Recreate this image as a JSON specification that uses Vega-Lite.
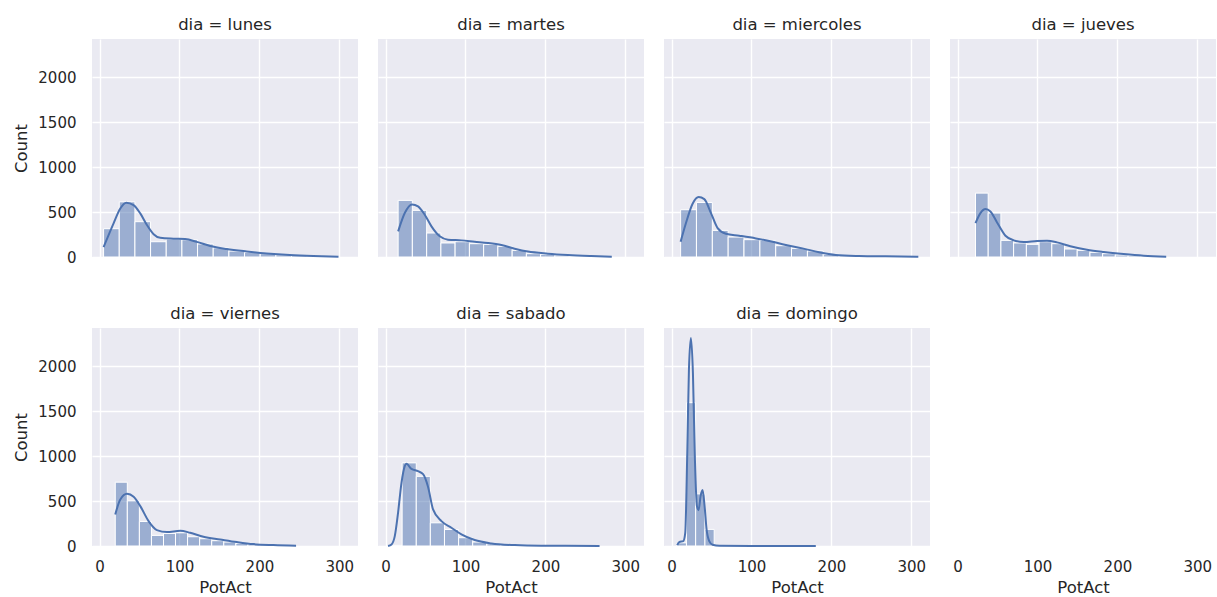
{
  "$schema": "https://vega.github.io/schema/vega-lite/v6.json",
  "background": "white",
  "padding": {"left": 13, "top": 16, "right": 0, "bottom": 0},
  "data": {
    "values": [
      {"dia": "lunes", "tipo": "hist", "desde": 5.0, "hasta": 24.6, "Count": 315},
      {"dia": "lunes", "tipo": "hist", "desde": 24.6, "hasta": 44.2, "Count": 614},
      {"dia": "lunes", "tipo": "hist", "desde": 44.2, "hasta": 63.8, "Count": 393},
      {"dia": "lunes", "tipo": "hist", "desde": 63.8, "hasta": 83.4, "Count": 170},
      {"dia": "lunes", "tipo": "hist", "desde": 83.4, "hasta": 103.0, "Count": 200},
      {"dia": "lunes", "tipo": "hist", "desde": 103.0, "hasta": 122.6, "Count": 192},
      {"dia": "lunes", "tipo": "hist", "desde": 122.6, "hasta": 142.2, "Count": 145},
      {"dia": "lunes", "tipo": "hist", "desde": 142.2, "hasta": 161.8, "Count": 102},
      {"dia": "lunes", "tipo": "hist", "desde": 161.8, "hasta": 181.4, "Count": 66},
      {"dia": "lunes", "tipo": "hist", "desde": 181.4, "hasta": 201.0, "Count": 52},
      {"dia": "lunes", "tipo": "hist", "desde": 201.0, "hasta": 220.6, "Count": 37},
      {"dia": "lunes", "tipo": "hist", "desde": 220.6, "hasta": 240.2, "Count": 24},
      {"dia": "lunes", "tipo": "hist", "desde": 240.2, "hasta": 259.8, "Count": 16},
      {"dia": "lunes", "tipo": "hist", "desde": 259.8, "hasta": 279.4, "Count": 9},
      {"dia": "lunes", "tipo": "hist", "desde": 279.4, "hasta": 299.0, "Count": 5},

      {"dia": "martes", "tipo": "hist", "desde": 15.7, "hasta": 33.5, "Count": 630},
      {"dia": "martes", "tipo": "hist", "desde": 33.5, "hasta": 51.4, "Count": 519},
      {"dia": "martes", "tipo": "hist", "desde": 51.4, "hasta": 69.2, "Count": 267},
      {"dia": "martes", "tipo": "hist", "desde": 69.2, "hasta": 87.0, "Count": 156},
      {"dia": "martes", "tipo": "hist", "desde": 87.0, "hasta": 104.9, "Count": 170},
      {"dia": "martes", "tipo": "hist", "desde": 104.9, "hasta": 122.7, "Count": 148},
      {"dia": "martes", "tipo": "hist", "desde": 122.7, "hasta": 140.5, "Count": 141},
      {"dia": "martes", "tipo": "hist", "desde": 140.5, "hasta": 158.4, "Count": 119},
      {"dia": "martes", "tipo": "hist", "desde": 158.4, "hasta": 176.2, "Count": 74},
      {"dia": "martes", "tipo": "hist", "desde": 176.2, "hasta": 194.0, "Count": 37},
      {"dia": "martes", "tipo": "hist", "desde": 194.0, "hasta": 211.8, "Count": 30},
      {"dia": "martes", "tipo": "hist", "desde": 211.8, "hasta": 229.7, "Count": 12},
      {"dia": "martes", "tipo": "hist", "desde": 229.7, "hasta": 247.5, "Count": 6},
      {"dia": "martes", "tipo": "hist", "desde": 247.5, "hasta": 265.3, "Count": 4},
      {"dia": "martes", "tipo": "hist", "desde": 265.3, "hasta": 283.1, "Count": 2},

      {"dia": "miercoles", "tipo": "hist", "desde": 11.3, "hasta": 31.1, "Count": 526},
      {"dia": "miercoles", "tipo": "hist", "desde": 31.1, "hasta": 51.0, "Count": 607},
      {"dia": "miercoles", "tipo": "hist", "desde": 51.0, "hasta": 70.8, "Count": 296},
      {"dia": "miercoles", "tipo": "hist", "desde": 70.8, "hasta": 90.6, "Count": 222},
      {"dia": "miercoles", "tipo": "hist", "desde": 90.6, "hasta": 110.5, "Count": 193},
      {"dia": "miercoles", "tipo": "hist", "desde": 110.5, "hasta": 130.3, "Count": 185},
      {"dia": "miercoles", "tipo": "hist", "desde": 130.3, "hasta": 150.1, "Count": 126},
      {"dia": "miercoles", "tipo": "hist", "desde": 150.1, "hasta": 170.0, "Count": 96},
      {"dia": "miercoles", "tipo": "hist", "desde": 170.0, "hasta": 189.8, "Count": 67},
      {"dia": "miercoles", "tipo": "hist", "desde": 189.8, "hasta": 209.6, "Count": 30},
      {"dia": "miercoles", "tipo": "hist", "desde": 209.6, "hasta": 229.5, "Count": 12},
      {"dia": "miercoles", "tipo": "hist", "desde": 229.5, "hasta": 249.3, "Count": 7},
      {"dia": "miercoles", "tipo": "hist", "desde": 249.3, "hasta": 269.1, "Count": 4},
      {"dia": "miercoles", "tipo": "hist", "desde": 269.1, "hasta": 289.0, "Count": 3},
      {"dia": "miercoles", "tipo": "hist", "desde": 289.0, "hasta": 308.8, "Count": 3},

      {"dia": "jueves", "tipo": "hist", "desde": 22.4, "hasta": 38.3, "Count": 711},
      {"dia": "jueves", "tipo": "hist", "desde": 38.3, "hasta": 54.2, "Count": 489},
      {"dia": "jueves", "tipo": "hist", "desde": 54.2, "hasta": 70.1, "Count": 185},
      {"dia": "jueves", "tipo": "hist", "desde": 70.1, "hasta": 86.1, "Count": 156},
      {"dia": "jueves", "tipo": "hist", "desde": 86.1, "hasta": 102.0, "Count": 141},
      {"dia": "jueves", "tipo": "hist", "desde": 102.0, "hasta": 117.9, "Count": 170},
      {"dia": "jueves", "tipo": "hist", "desde": 117.9, "hasta": 133.8, "Count": 148},
      {"dia": "jueves", "tipo": "hist", "desde": 133.8, "hasta": 149.7, "Count": 89},
      {"dia": "jueves", "tipo": "hist", "desde": 149.7, "hasta": 165.6, "Count": 74},
      {"dia": "jueves", "tipo": "hist", "desde": 165.6, "hasta": 181.5, "Count": 52},
      {"dia": "jueves", "tipo": "hist", "desde": 181.5, "hasta": 197.4, "Count": 37},
      {"dia": "jueves", "tipo": "hist", "desde": 197.4, "hasta": 213.4, "Count": 22},
      {"dia": "jueves", "tipo": "hist", "desde": 213.4, "hasta": 229.3, "Count": 15},
      {"dia": "jueves", "tipo": "hist", "desde": 229.3, "hasta": 245.2, "Count": 7},
      {"dia": "jueves", "tipo": "hist", "desde": 245.2, "hasta": 261.1, "Count": 4},

      {"dia": "viernes", "tipo": "hist", "desde": 19.6, "hasta": 34.7, "Count": 710},
      {"dia": "viernes", "tipo": "hist", "desde": 34.7, "hasta": 49.8, "Count": 503},
      {"dia": "viernes", "tipo": "hist", "desde": 49.8, "hasta": 64.9, "Count": 273},
      {"dia": "viernes", "tipo": "hist", "desde": 64.9, "hasta": 80.0, "Count": 118},
      {"dia": "viernes", "tipo": "hist", "desde": 80.0, "hasta": 95.0, "Count": 140},
      {"dia": "viernes", "tipo": "hist", "desde": 95.0, "hasta": 110.1, "Count": 147},
      {"dia": "viernes", "tipo": "hist", "desde": 110.1, "hasta": 125.2, "Count": 103},
      {"dia": "viernes", "tipo": "hist", "desde": 125.2, "hasta": 140.3, "Count": 81},
      {"dia": "viernes", "tipo": "hist", "desde": 140.3, "hasta": 155.4, "Count": 59},
      {"dia": "viernes", "tipo": "hist", "desde": 155.4, "hasta": 170.5, "Count": 44},
      {"dia": "viernes", "tipo": "hist", "desde": 170.5, "hasta": 185.6, "Count": 29},
      {"dia": "viernes", "tipo": "hist", "desde": 185.6, "hasta": 200.7, "Count": 18},
      {"dia": "viernes", "tipo": "hist", "desde": 200.7, "hasta": 215.7, "Count": 10},
      {"dia": "viernes", "tipo": "hist", "desde": 215.7, "hasta": 230.8, "Count": 7},
      {"dia": "viernes", "tipo": "hist", "desde": 230.8, "hasta": 245.9, "Count": 3},

      {"dia": "sabado", "tipo": "hist", "desde": 3.1, "hasta": 20.7, "Count": 7},
      {"dia": "sabado", "tipo": "hist", "desde": 20.7, "hasta": 38.4, "Count": 925},
      {"dia": "sabado", "tipo": "hist", "desde": 38.4, "hasta": 56.0, "Count": 775},
      {"dia": "sabado", "tipo": "hist", "desde": 56.0, "hasta": 73.7, "Count": 258},
      {"dia": "sabado", "tipo": "hist", "desde": 73.7, "hasta": 91.4, "Count": 184},
      {"dia": "sabado", "tipo": "hist", "desde": 91.4, "hasta": 109.0, "Count": 92},
      {"dia": "sabado", "tipo": "hist", "desde": 109.0, "hasta": 126.7, "Count": 44},
      {"dia": "sabado", "tipo": "hist", "desde": 126.7, "hasta": 144.3, "Count": 25},
      {"dia": "sabado", "tipo": "hist", "desde": 144.3, "hasta": 162.0, "Count": 14},
      {"dia": "sabado", "tipo": "hist", "desde": 162.0, "hasta": 179.6, "Count": 10},
      {"dia": "sabado", "tipo": "hist", "desde": 179.6, "hasta": 197.3, "Count": 7},
      {"dia": "sabado", "tipo": "hist", "desde": 197.3, "hasta": 214.9, "Count": 4},
      {"dia": "sabado", "tipo": "hist", "desde": 214.9, "hasta": 232.6, "Count": 3},
      {"dia": "sabado", "tipo": "hist", "desde": 232.6, "hasta": 250.2, "Count": 2},
      {"dia": "sabado", "tipo": "hist", "desde": 250.2, "hasta": 267.8, "Count": 2},

      {"dia": "domingo", "tipo": "hist", "desde": 7.0, "hasta": 18.6, "Count": 35},
      {"dia": "domingo", "tipo": "hist", "desde": 18.6, "hasta": 30.1, "Count": 1595},
      {"dia": "domingo", "tipo": "hist", "desde": 30.1, "hasta": 41.7, "Count": 580},
      {"dia": "domingo", "tipo": "hist", "desde": 41.7, "hasta": 53.3, "Count": 185},
      {"dia": "domingo", "tipo": "hist", "desde": 53.3, "hasta": 64.8, "Count": 3},
      {"dia": "domingo", "tipo": "hist", "desde": 64.8, "hasta": 76.4, "Count": 1},
      {"dia": "domingo", "tipo": "hist", "desde": 76.4, "hasta": 88.0, "Count": 1},
      {"dia": "domingo", "tipo": "hist", "desde": 88.0, "hasta": 99.6, "Count": 1},
      {"dia": "domingo", "tipo": "hist", "desde": 111.1, "hasta": 122.7, "Count": 1},
      {"dia": "domingo", "tipo": "hist", "desde": 145.8, "hasta": 157.4, "Count": 1},
      {"dia": "domingo", "tipo": "hist", "desde": 169.0, "hasta": 180.5, "Count": 1},

      {"dia": "lunes", "tipo": "kde", "PotAct": 5.0, "Count": 110},
      {"dia": "lunes", "tipo": "kde", "PotAct": 17.5, "Count": 375},
      {"dia": "lunes", "tipo": "kde", "PotAct": 25.9, "Count": 540},
      {"dia": "lunes", "tipo": "kde", "PotAct": 33.4, "Count": 605},
      {"dia": "lunes", "tipo": "kde", "PotAct": 42.5, "Count": 577},
      {"dia": "lunes", "tipo": "kde", "PotAct": 50.9, "Count": 485},
      {"dia": "lunes", "tipo": "kde", "PotAct": 59.2, "Count": 357},
      {"dia": "lunes", "tipo": "kde", "PotAct": 67.6, "Count": 254},
      {"dia": "lunes", "tipo": "kde", "PotAct": 75.9, "Count": 213},
      {"dia": "lunes", "tipo": "kde", "PotAct": 92.5, "Count": 204},
      {"dia": "lunes", "tipo": "kde", "PotAct": 107.0, "Count": 200},
      {"dia": "lunes", "tipo": "kde", "PotAct": 121.7, "Count": 168},
      {"dia": "lunes", "tipo": "kde", "PotAct": 138.4, "Count": 122},
      {"dia": "lunes", "tipo": "kde", "PotAct": 159.0, "Count": 89},
      {"dia": "lunes", "tipo": "kde", "PotAct": 184.0, "Count": 62},
      {"dia": "lunes", "tipo": "kde", "PotAct": 209.0, "Count": 40},
      {"dia": "lunes", "tipo": "kde", "PotAct": 238.0, "Count": 22},
      {"dia": "lunes", "tipo": "kde", "PotAct": 267.5, "Count": 11},
      {"dia": "lunes", "tipo": "kde", "PotAct": 299.0, "Count": 4},

      {"dia": "martes", "tipo": "kde", "PotAct": 15.7, "Count": 285},
      {"dia": "martes", "tipo": "kde", "PotAct": 24.0, "Count": 489},
      {"dia": "martes", "tipo": "kde", "PotAct": 33.1, "Count": 585},
      {"dia": "martes", "tipo": "kde", "PotAct": 40.6, "Count": 563},
      {"dia": "martes", "tipo": "kde", "PotAct": 49.0, "Count": 470},
      {"dia": "martes", "tipo": "kde", "PotAct": 57.4, "Count": 341},
      {"dia": "martes", "tipo": "kde", "PotAct": 67.8, "Count": 230},
      {"dia": "martes", "tipo": "kde", "PotAct": 78.1, "Count": 193},
      {"dia": "martes", "tipo": "kde", "PotAct": 94.9, "Count": 185},
      {"dia": "martes", "tipo": "kde", "PotAct": 111.5, "Count": 170},
      {"dia": "martes", "tipo": "kde", "PotAct": 128.1, "Count": 156},
      {"dia": "martes", "tipo": "kde", "PotAct": 144.9, "Count": 133},
      {"dia": "martes", "tipo": "kde", "PotAct": 161.5, "Count": 92},
      {"dia": "martes", "tipo": "kde", "PotAct": 178.1, "Count": 60},
      {"dia": "martes", "tipo": "kde", "PotAct": 203.1, "Count": 37},
      {"dia": "martes", "tipo": "kde", "PotAct": 228.1, "Count": 22},
      {"dia": "martes", "tipo": "kde", "PotAct": 257.4, "Count": 11},
      {"dia": "martes", "tipo": "kde", "PotAct": 283.1, "Count": 4},

      {"dia": "miercoles", "tipo": "kde", "PotAct": 11.3, "Count": 170},
      {"dia": "miercoles", "tipo": "kde", "PotAct": 18.0, "Count": 378},
      {"dia": "miercoles", "tipo": "kde", "PotAct": 26.3, "Count": 593},
      {"dia": "miercoles", "tipo": "kde", "PotAct": 33.8, "Count": 667},
      {"dia": "miercoles", "tipo": "kde", "PotAct": 40.9, "Count": 644},
      {"dia": "miercoles", "tipo": "kde", "PotAct": 49.3, "Count": 489},
      {"dia": "miercoles", "tipo": "kde", "PotAct": 57.6, "Count": 322},
      {"dia": "miercoles", "tipo": "kde", "PotAct": 68.0, "Count": 259},
      {"dia": "miercoles", "tipo": "kde", "PotAct": 84.6, "Count": 237},
      {"dia": "miercoles", "tipo": "kde", "PotAct": 105.5, "Count": 207},
      {"dia": "miercoles", "tipo": "kde", "PotAct": 122.1, "Count": 178},
      {"dia": "miercoles", "tipo": "kde", "PotAct": 143.0, "Count": 133},
      {"dia": "miercoles", "tipo": "kde", "PotAct": 163.8, "Count": 96},
      {"dia": "miercoles", "tipo": "kde", "PotAct": 184.6, "Count": 52},
      {"dia": "miercoles", "tipo": "kde", "PotAct": 205.5, "Count": 22},
      {"dia": "miercoles", "tipo": "kde", "PotAct": 234.6, "Count": 11},
      {"dia": "miercoles", "tipo": "kde", "PotAct": 268.0, "Count": 7},
      {"dia": "miercoles", "tipo": "kde", "PotAct": 308.8, "Count": 4},

      {"dia": "jueves", "tipo": "kde", "PotAct": 22.4, "Count": 378},
      {"dia": "jueves", "tipo": "kde", "PotAct": 28.6, "Count": 489},
      {"dia": "jueves", "tipo": "kde", "PotAct": 34.9, "Count": 533},
      {"dia": "jueves", "tipo": "kde", "PotAct": 41.1, "Count": 507},
      {"dia": "jueves", "tipo": "kde", "PotAct": 49.4, "Count": 385},
      {"dia": "jueves", "tipo": "kde", "PotAct": 59.9, "Count": 237},
      {"dia": "jueves", "tipo": "kde", "PotAct": 70.3, "Count": 185},
      {"dia": "jueves", "tipo": "kde", "PotAct": 82.8, "Count": 167},
      {"dia": "jueves", "tipo": "kde", "PotAct": 99.4, "Count": 178},
      {"dia": "jueves", "tipo": "kde", "PotAct": 111.9, "Count": 181},
      {"dia": "jueves", "tipo": "kde", "PotAct": 124.4, "Count": 163},
      {"dia": "jueves", "tipo": "kde", "PotAct": 141.1, "Count": 119},
      {"dia": "jueves", "tipo": "kde", "PotAct": 161.9, "Count": 81},
      {"dia": "jueves", "tipo": "kde", "PotAct": 182.8, "Count": 56},
      {"dia": "jueves", "tipo": "kde", "PotAct": 207.8, "Count": 33},
      {"dia": "jueves", "tipo": "kde", "PotAct": 232.8, "Count": 15},
      {"dia": "jueves", "tipo": "kde", "PotAct": 261.1, "Count": 4},

      {"dia": "viernes", "tipo": "kde", "PotAct": 19.6, "Count": 351},
      {"dia": "viernes", "tipo": "kde", "PotAct": 25.9, "Count": 518},
      {"dia": "viernes", "tipo": "kde", "PotAct": 34.3, "Count": 581},
      {"dia": "viernes", "tipo": "kde", "PotAct": 42.6, "Count": 547},
      {"dia": "viernes", "tipo": "kde", "PotAct": 50.9, "Count": 444},
      {"dia": "viernes", "tipo": "kde", "PotAct": 61.3, "Count": 277},
      {"dia": "viernes", "tipo": "kde", "PotAct": 71.7, "Count": 177},
      {"dia": "viernes", "tipo": "kde", "PotAct": 84.3, "Count": 155},
      {"dia": "viernes", "tipo": "kde", "PotAct": 100.9, "Count": 170},
      {"dia": "viernes", "tipo": "kde", "PotAct": 113.4, "Count": 147},
      {"dia": "viernes", "tipo": "kde", "PotAct": 130.0, "Count": 103},
      {"dia": "viernes", "tipo": "kde", "PotAct": 150.9, "Count": 73},
      {"dia": "viernes", "tipo": "kde", "PotAct": 171.8, "Count": 44},
      {"dia": "viernes", "tipo": "kde", "PotAct": 192.5, "Count": 21},
      {"dia": "viernes", "tipo": "kde", "PotAct": 217.5, "Count": 10},
      {"dia": "viernes", "tipo": "kde", "PotAct": 245.9, "Count": 3},

      {"dia": "sabado", "tipo": "kde", "PotAct": 3.1, "Count": 1},
      {"dia": "sabado", "tipo": "kde", "PotAct": 7.4, "Count": 18},
      {"dia": "sabado", "tipo": "kde", "PotAct": 11.5, "Count": 110},
      {"dia": "sabado", "tipo": "kde", "PotAct": 15.6, "Count": 370},
      {"dia": "sabado", "tipo": "kde", "PotAct": 19.9, "Count": 703},
      {"dia": "sabado", "tipo": "kde", "PotAct": 24.0, "Count": 888},
      {"dia": "sabado", "tipo": "kde", "PotAct": 26.1, "Count": 914},
      {"dia": "sabado", "tipo": "kde", "PotAct": 32.4, "Count": 858},
      {"dia": "sabado", "tipo": "kde", "PotAct": 40.6, "Count": 833},
      {"dia": "sabado", "tipo": "kde", "PotAct": 46.9, "Count": 800},
      {"dia": "sabado", "tipo": "kde", "PotAct": 53.1, "Count": 660},
      {"dia": "sabado", "tipo": "kde", "PotAct": 59.4, "Count": 407},
      {"dia": "sabado", "tipo": "kde", "PotAct": 69.9, "Count": 277},
      {"dia": "sabado", "tipo": "kde", "PotAct": 82.4, "Count": 203},
      {"dia": "sabado", "tipo": "kde", "PotAct": 94.9, "Count": 129},
      {"dia": "sabado", "tipo": "kde", "PotAct": 111.5, "Count": 66},
      {"dia": "sabado", "tipo": "kde", "PotAct": 132.4, "Count": 29},
      {"dia": "sabado", "tipo": "kde", "PotAct": 161.5, "Count": 10},
      {"dia": "sabado", "tipo": "kde", "PotAct": 194.9, "Count": 3},
      {"dia": "sabado", "tipo": "kde", "PotAct": 267.8, "Count": 1},

      {"dia": "domingo", "tipo": "kde", "PotAct": 7.0, "Count": 10},
      {"dia": "domingo", "tipo": "kde", "PotAct": 9.6, "Count": 44},
      {"dia": "domingo", "tipo": "kde", "PotAct": 14.6, "Count": 55},
      {"dia": "domingo", "tipo": "kde", "PotAct": 17.1, "Count": 147},
      {"dia": "domingo", "tipo": "kde", "PotAct": 19.6, "Count": 1036},
      {"dia": "domingo", "tipo": "kde", "PotAct": 21.7, "Count": 1962},
      {"dia": "domingo", "tipo": "kde", "PotAct": 24.2, "Count": 2314},
      {"dia": "domingo", "tipo": "kde", "PotAct": 26.7, "Count": 1925},
      {"dia": "domingo", "tipo": "kde", "PotAct": 29.2, "Count": 962},
      {"dia": "domingo", "tipo": "kde", "PotAct": 31.7, "Count": 444},
      {"dia": "domingo", "tipo": "kde", "PotAct": 33.8, "Count": 399},
      {"dia": "domingo", "tipo": "kde", "PotAct": 36.3, "Count": 555},
      {"dia": "domingo", "tipo": "kde", "PotAct": 38.8, "Count": 622},
      {"dia": "domingo", "tipo": "kde", "PotAct": 41.3, "Count": 444},
      {"dia": "domingo", "tipo": "kde", "PotAct": 43.8, "Count": 184},
      {"dia": "domingo", "tipo": "kde", "PotAct": 47.1, "Count": 55},
      {"dia": "domingo", "tipo": "kde", "PotAct": 51.3, "Count": 14},
      {"dia": "domingo", "tipo": "kde", "PotAct": 60.0, "Count": 3},
      {"dia": "domingo", "tipo": "kde", "PotAct": 100.0, "Count": 1},
      {"dia": "domingo", "tipo": "kde", "PotAct": 140.0, "Count": 1},
      {"dia": "domingo", "tipo": "kde", "PotAct": 180.5, "Count": 0}
    ]
  },
  "facet": {
    "field": "dia",
    "type": "nominal",
    "sort": ["lunes", "martes", "miercoles", "jueves", "viernes", "sabado", "domingo"],
    "header": {
      "title": null,
      "labelExpr": "'dia = ' + datum.value",
      "labelFont": "DejaVu Sans",
      "labelFontSize": 16.5,
      "labelColor": "#262626",
      "labelPadding": 6
    }
  },
  "columns": 4,
  "spacing": {"column": 20, "row": 44},
  "spec": {
    "width": 266,
    "height": 218,
    "layer": [
      {
        "transform": [{"filter": "datum.tipo === 'hist'"}],
        "mark": {"type": "rect", "fill": "#4C72B0", "fillOpacity": 0.5, "stroke": "white", "strokeWidth": 1},
        "encoding": {
          "x": {
            "field": "desde",
            "type": "quantitative",
            "scale": {"domain": [-9.5, 323.4], "nice": false, "zero": false},
            "axis": {"values": [0, 100, 200, 300], "format": "d"},
            "title": "PotAct"
          },
          "x2": {"field": "hasta"},
          "y": {
            "field": "Count",
            "type": "quantitative",
            "scale": {"domain": [0, 2426], "nice": false},
            "axis": {"values": [0, 500, 1000, 1500, 2000], "format": "d"},
            "title": "Count"
          }
        }
      },
      {
        "transform": [{"filter": "datum.tipo === 'kde'"}],
        "mark": {"type": "line", "color": "#4C72B0", "strokeWidth": 2, "interpolate": "monotone"},
        "encoding": {
          "x": {"field": "PotAct", "type": "quantitative"},
          "y": {"field": "Count", "type": "quantitative"}
        }
      }
    ]
  },
  "config": {
    "view": {"fill": "#EAEAF2", "stroke": null},
    "axis": {
      "grid": true,
      "gridColor": "white",
      "gridWidth": 1.4,
      "domain": false,
      "ticks": false,
      "tickSize": 0,
      "labelFont": "DejaVu Sans",
      "labelFontSize": 15,
      "labelColor": "#262626",
      "titleFont": "DejaVu Sans",
      "titleFontSize": 16.5,
      "titleFontWeight": "normal",
      "titleColor": "#262626"
    },
    "axisX": {"labelPadding": 9, "titlePadding": 5},
    "axisY": {"labelPadding": 16, "titlePadding": 8}
  }
}
